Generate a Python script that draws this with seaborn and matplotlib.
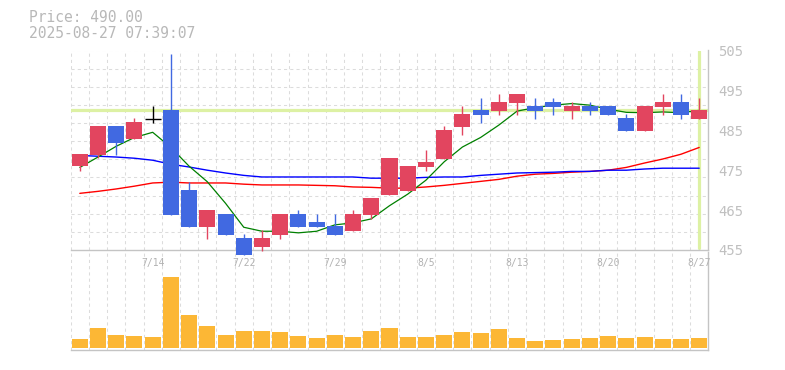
import numpy as np
import pandas as pd
import seaborn as sns
import matplotlib.pyplot as plt

# daily candles, 7/8 .. 8/27 (35 trading days)
opens = [476.0, 478.7, 486.0, 482.8, 487.8, 490.0, 470.0, 460.8, 464.0, 458.0,
         455.8, 458.8, 464.0, 462.0, 461.0, 459.8, 463.8, 468.8, 469.8, 475.8,
         477.8, 485.8, 490.0, 489.8, 491.8, 491.0, 492.0, 489.8, 491.0, 491.0,
         488.0, 484.8, 490.8, 492.0, 487.8]
highs = [479.0, 486.0, 486.0, 488.0, 491.0, 504.0, 472.0, 465.0, 464.0, 459.0,
         460.0, 464.0, 465.0, 464.0, 464.0, 465.0, 468.0, 478.0, 476.0, 480.0,
         486.0, 491.0, 493.0, 494.0, 494.0, 493.0, 493.0, 492.0, 492.0, 491.0,
         489.0, 491.0, 494.0, 494.0, 493.0]
lows = [474.8, 478.0, 478.8, 482.8, 486.8, 463.8, 460.8, 457.8, 458.8, 453.8,
        454.8, 457.8, 460.8, 460.8, 458.8, 459.8, 462.8, 468.8, 469.8, 474.8,
        477.8, 483.8, 486.8, 488.8, 488.8, 487.8, 488.8, 487.8, 488.8, 488.8,
        484.8, 484.8, 488.8, 487.8, 487.8]
closes = [479.0, 486.0, 481.8, 487.0, 487.8, 463.8, 460.8, 465.0, 458.8, 453.8,
          458.0, 464.0, 460.8, 460.8, 458.8, 464.0, 468.0, 478.0, 476.0, 477.0,
          485.0, 489.0, 488.8, 492.0, 494.0, 489.8, 490.8, 491.0, 489.8, 488.8,
          484.8, 491.0, 492.0, 488.8, 490.0]
volumes = [9300, 20600, 13300, 12300, 11300, 71300, 33300, 22300, 13300, 17300,
           17300, 16300, 12300, 10300, 13300, 11300, 17300, 20300, 11300, 11300,
           13300, 16300, 15300, 19300, 10300, 7300, 8300, 9300, 10300, 12300,
           10300, 11300, 9300, 9300, 10300]

# moving averages
ma_short = [475.7, 478.3, 481.0, 483.2, 484.5, 480.7, 476.0, 472.1, 466.7, 460.7,
            459.7, 459.7, 459.3, 459.7, 461.3, 461.8, 462.8, 466.1, 469.0, 472.5,
            477.1, 480.8, 483.2, 486.3, 489.8, 490.7, 491.3, 491.7, 491.3, 490.3,
            489.5, 489.4, 489.6, 489.4, 490.0]
ma_mid = [478.7, 478.5, 478.3, 478.0, 477.5, 476.5, 475.8, 475.0, 474.3, 473.7,
          473.3, 473.3, 473.3, 473.3, 473.3, 473.3, 473.0, 473.0, 473.0, 473.2,
          473.3, 473.3, 473.7, 474.0, 474.3, 474.4, 474.5, 474.7, 474.7, 475.0,
          475.0, 475.3, 475.5, 475.5, 475.5]
ma_long = [469.2, 469.7, 470.3, 471.0, 471.8, 472.0, 471.8, 471.8, 471.8, 471.5,
           471.3, 471.3, 471.3, 471.2, 471.1, 470.8, 470.7, 470.5, 470.5, 470.8,
           471.2, 471.7, 472.2, 472.7, 473.5, 474.0, 474.2, 474.5, 474.7, 475.0,
           475.7, 476.8, 477.8, 479.0, 480.7]

tick_pos = [4, 9, 14, 19, 24, 29, 34]
tick_labels = ["7/14", "7/22", "7/29", "8/5", "8/13", "8/20", "8/27"]
price_ticks = [455, 465, 475, 485, 495, 505]
last_price = 490.0

df = pd.DataFrame({"i": np.arange(len(opens)), "open": opens, "high": highs,
                   "low": lows, "close": closes, "volume": volumes,
                   "ma5": ma_short, "ma25": ma_mid, "ma75": ma_long})

sns.set_theme(style="white")
plt.rcParams["font.family"] = ["DejaVu Sans Mono"]

RED = "#e2455f"
BLUE = "#4169e1"
GRID = "#dcdcdc"
SPINE = "#c4c4c4"
HL = "#ddf1a4"

fig = plt.figure(figsize=(7.85, 3.70), dpi=100)
ax_vol = fig.add_axes([70.7 / 785, 20 / 370, 637.6 / 785, 98 / 370])
ax = fig.add_axes([70.7 / 785, 120 / 370, 637.6 / 785, 199.5 / 370])
ax.set_zorder(3)
ax.patch.set_alpha(0)
ax_vol.patch.set_alpha(0)

n = len(df)
# grid (square 1-candle cells)
for k in range(n):
    ax.axvline(k - 0.5, color=GRID, lw=0.75, ls=(0, (3, 3)), zorder=0)
    ax_vol.axvline(k - 0.5, color=GRID, lw=0.75, ls=(0, (3, 3)), zorder=0)
for k in range(11):
    ax.axhline(505 - k * 50 / 11, color=GRID, lw=0.75, ls=(0, (3, 3)), zorder=0)

# last price marker lines
ax.axhline(last_price, color=HL, lw=2.3, zorder=1)
ax.axvline(n - 1, ymin=0.01, ymax=1, color=HL, lw=2.3, zorder=1)

# moving averages
sns.lineplot(data=df, x="i", y="ma75", color="#ff0000", lw=1, ax=ax, zorder=2)
sns.lineplot(data=df, x="i", y="ma25", color="#0000ff", lw=1, ax=ax, zorder=2)
sns.lineplot(data=df, x="i", y="ma5", color="#008000", lw=0.9, ax=ax, zorder=2)

# candles
w = 0.88
for r in df.itertuples():
    if r.close > r.open:
        c = RED
    elif r.close < r.open:
        c = BLUE
    else:
        c = "black"
    ax.vlines(r.i, r.low, r.high, color=c, lw=1, zorder=4, clip_on=False)
    if r.close == r.open:
        ax.hlines(r.close, r.i - w / 2, r.i + w / 2, color=c, lw=1, zorder=5)
    else:
        ax.bar(r.i, r.close - r.open, bottom=r.open, width=w, color=c,
               linewidth=0, zorder=5, clip_on=False)

ax.set_xlim(-0.5, n - 0.5)
ax.set_ylim(455, 505)
ax.set_xlabel("")
ax.set_ylabel("")
ax.yaxis.tick_right()
ax.set_yticks(price_ticks)
ax.set_xticks(tick_pos)
ax.set_xticklabels(tick_labels)
ax.tick_params(axis="y", length=0, pad=7.2, labelsize=10, labelcolor="#c0c0c0")
ax.tick_params(axis="x", length=0, pad=5.5, labelsize=7, labelcolor="#b2b2b2")
for s in ["left", "top"]:
    ax.spines[s].set_visible(False)
for s in ["bottom", "right"]:
    ax.spines[s].set_color(SPINE)
    ax.spines[s].set_linewidth(1)

# volume
sns.barplot(data=df, x="i", y="volume", color="#fcb735", saturation=1,
            width=w, linewidth=0, ax=ax_vol, zorder=2)
ax_vol.set_xlim(-0.5, n - 0.5)
ax_vol.set_ylim(-1700, 96300)
ax_vol.set_xticks([])
ax_vol.set_yticks([])
ax_vol.set_xlabel("")
ax_vol.set_ylabel("")
for s in ["left", "top"]:
    ax_vol.spines[s].set_visible(False)
for s in ["bottom", "right"]:
    ax_vol.spines[s].set_color(SPINE)
    ax_vol.spines[s].set_linewidth(1)

fig.text(29 / 785, 1 - 18 / 370, "Price: 490.00", fontsize=10.5,
         color="#b8b8b8", va="center", ha="left")
fig.text(29 / 785, 1 - 33 / 370, "2025-08-27 07:39:07", fontsize=10.5,
         color="#b8b8b8", va="center", ha="left")

fig.savefig("out.png", dpi=100)
